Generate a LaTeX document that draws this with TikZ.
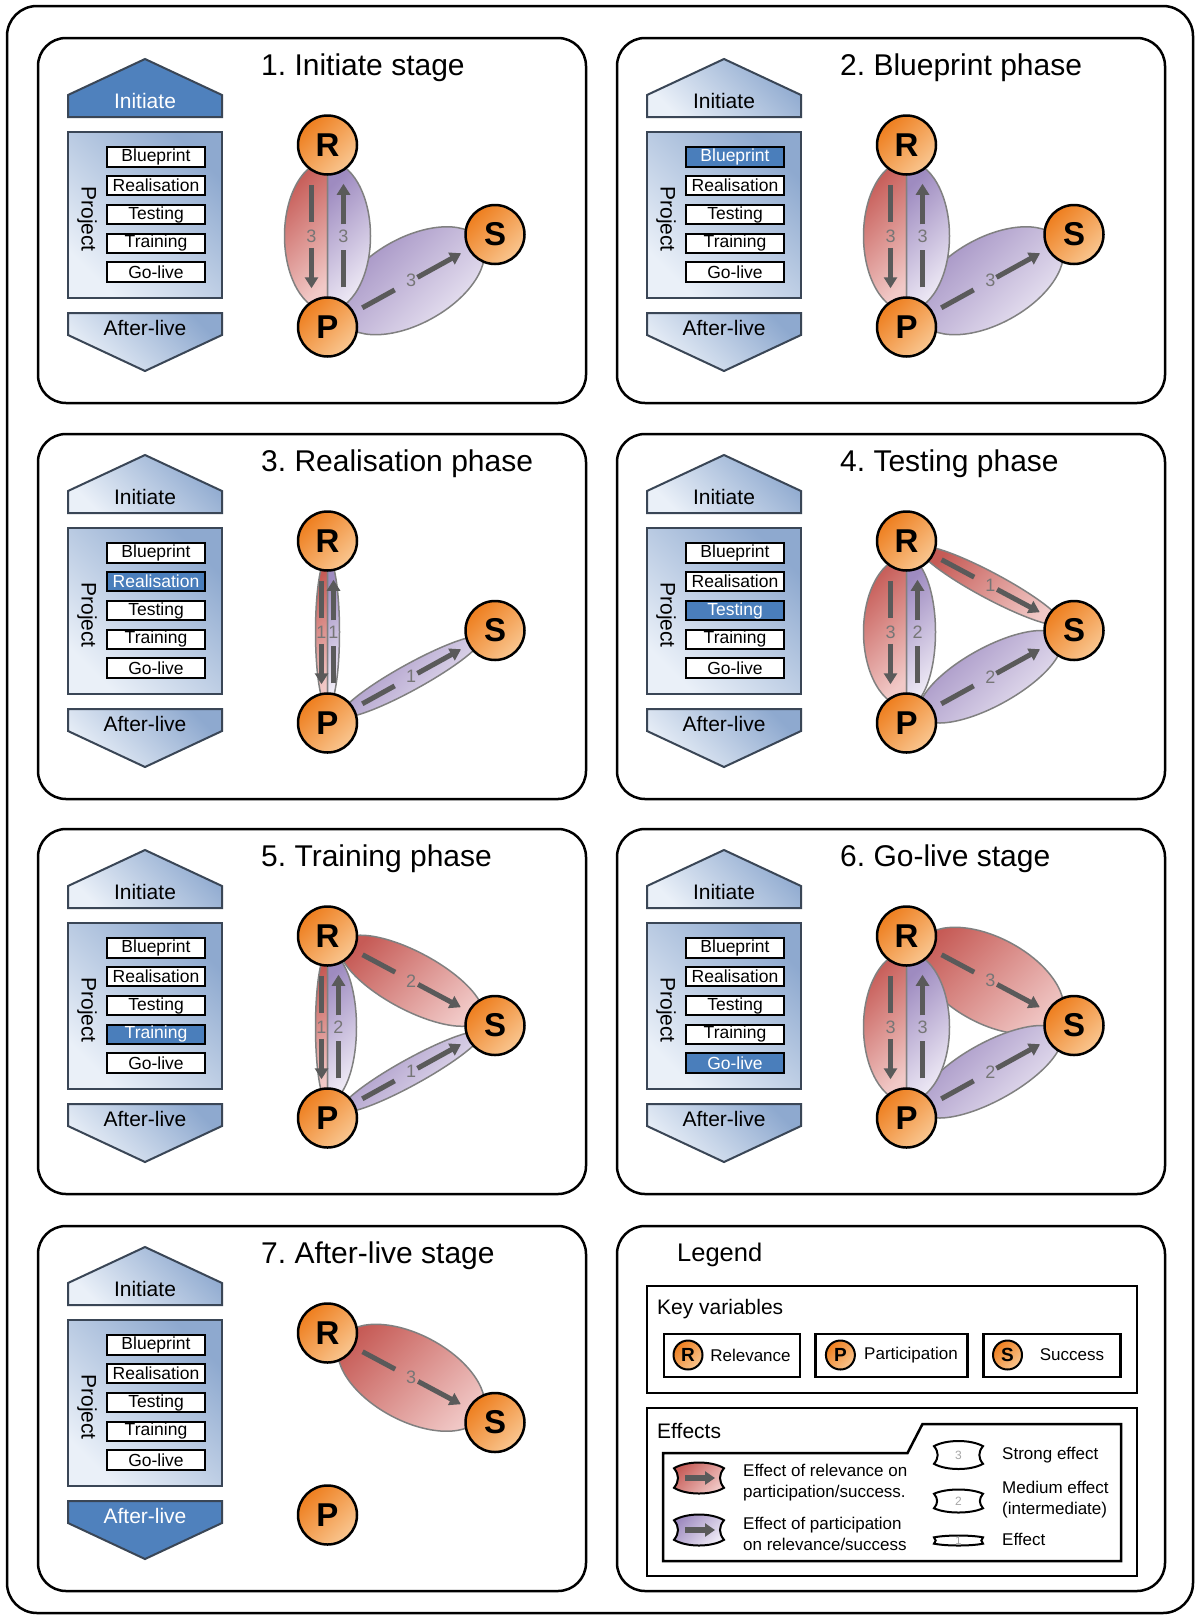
\documentclass[tikz,border=0pt]{standalone}
\usepackage{fontspec}
\setmainfont{Liberation Sans}
\usepackage{tikz}
\usetikzlibrary{arrows.meta,positioning,calc,backgrounds}
\frenchspacing

\definecolor{phaseblue}{HTML}{4F81BD}
\definecolor{itemblue}{HTML}{4A7EBB}
\definecolor{phasedark}{HTML}{8EA9CF}
\definecolor{phaselight}{HTML}{EAF0F8}
\definecolor{phaseedge}{HTML}{3A4656}
\definecolor{reldark}{HTML}{C65B56}
\definecolor{rellight}{HTML}{F1C9C7}
\definecolor{partdark}{HTML}{9E8BC0}
\definecolor{partlight}{HTML}{EFEBF6}
\definecolor{vardark}{HTML}{EE7E1E}
\definecolor{varlight}{HTML}{F9C690}
\definecolor{effgray}{HTML}{5A5A5A}
\definecolor{effedge}{HTML}{808080}
\definecolor{numgray}{HTML}{767676}
\definecolor{numlight}{HTML}{A6A6A6}

\newcommand{\fsz}[1]{\fontsize{#1}{#1}\selectfont}

\tikzset{
  frame/.style={draw=black, line width=2.5pt, rounded corners=28pt},
  box/.style={draw=black, line width=2.5pt},
  title/.style={font=\fsz{30}, inner sep=0pt},
  phase/.style={draw=phaseedge, line width=2pt, top color=phasedark, bottom color=phaselight, shading angle=-45},
  phaseon/.style={draw=phaseedge, line width=2pt, fill=phaseblue},
  phasetxt/.style={font=\fsz{21}, inner sep=0pt},
  item/.style={draw=black, line width=2pt, fill=white, minimum width=98pt, minimum height=19.5pt, inner sep=0pt, font=\fsz{17.5}},
  itemon/.style={item, fill=itemblue, text=white},
  var/.style={circle, draw=black, line width=2.5pt, minimum size=59pt, inner sep=0pt, top color=vardark, bottom color=varlight, shading angle=45, font=\bfseries\fsz{33}},
  smallvar/.style={var, line width=2pt, minimum size=29pt, font=\bfseries\fsz{19}},
  releff/.style={draw=effedge, line width=1.5pt, top color=reldark, bottom color=rellight, shading angle=45},
  parteff/.style={draw=effedge, line width=1.5pt, top color=partdark, bottom color=partlight, shading angle=45},
  effarrow/.style={draw=effgray, line width=5pt, -{Triangle[length=11pt,width=13pt]}, shorten <=9pt, shorten >=8pt, dash pattern=on 37pt off 26pt on 400pt},
  effnum/.style={text=numgray, font=\fsz{18}, inner sep=0pt},
  keybox/.style={draw=black, line width=2.5pt, minimum height=43pt, inner sep=0pt},
  legtxt/.style={font=\fontsize{17}{20.5}\selectfont, inner sep=0pt, align=left},
  legarrow/.style={draw=effgray, line width=5.5pt, -{Triangle[length=10pt,width=13pt]}},
}

% effect shapes under the variables
\newcommand{\effell}[5]{% centre, angle, semi-major, semi-minor, style
  \path[#5, shift={#1}, rotate=#2] (0,0) ellipse[x radius=#3, y radius=#4];}
\newcommand{\effhalf}[6]{% centre, angle, semi-major, semi-minor, style, end angle
  \path[#5, shift={#1}, rotate=#2] (#3,0) arc[start angle=0, end angle=#6, x radius=#3, y radius=#4] -- cycle;}

\newcommand{\rppair}[7]{%
  \begin{scope}[on background layer]
    \effhalf{($(R#1)!.5!(P#1)$)}{-90}{75}{#2}{releff}{180}
    \effhalf{($(R#1)!.5!(P#1)$)}{-90}{75}{#3}{parteff}{-180}
  \end{scope}
  \draw[effarrow] ([xshift=-#4pt]R#1.south) -- node[effnum]{#6} ([xshift=-#4pt]P#1.north);
  \draw[effarrow] ([xshift=#5pt]P#1.north) -- node[effnum]{#7} ([xshift=#5pt]R#1.south);}
\newcommand{\rseff}[3]{%
  \begin{scope}[on background layer]
    \effell{($(R#1)!.5!(S#1)$)}{-28.1}{80}{#2}{releff}
  \end{scope}
  \draw[effarrow] (R#1) -- node[effnum]{#3} (S#1);}
\newcommand{\pseff}[3]{%
  \begin{scope}[on background layer]
    \effell{($(P#1)!.5!(S#1)$)}{28.9}{80}{#2}{parteff}
  \end{scope}
  \draw[effarrow] (P#1) -- node[effnum]{#3} (S#1);}

% legend badge
\newcommand{\badge}[5]{% centre, half width, half height, style, content
  \begin{scope}[shift={#1}]
    \pgfmathsetmacro\bw{#2}
    \pgfmathsetmacro\bh{0.63*#3}
    \pgfmathsetmacro\bk{(#3-\bh)/0.75}
    \pgfmathsetmacro\bc{0.3*#3+0.7}
    \path[#4] (-\bw,-\bh) .. controls (-\bw/2,-\bh-\bk) and (\bw/2,-\bh-\bk) .. (\bw,-\bh)
      .. controls (\bw-\bc,-\bh/3) and (\bw-\bc,\bh/3) .. (\bw,\bh)
      .. controls (\bw/2,\bh+\bk) and (-\bw/2,\bh+\bk) .. (-\bw,\bh)
      .. controls (-\bw+\bc,\bh/3) and (-\bw+\bc,-\bh/3) .. (-\bw,-\bh) -- cycle;
    #5
  \end{scope}}

\begin{document}
\begin{tikzpicture}[x=1pt,y=-1pt]
  \useasboundingbox (0,0) rectangle (1197,1615);
  \begin{scope}[on background layer]
    \fill[white] (0,0) rectangle (1197,1615);
  \end{scope}
  \draw[frame, rounded corners=30pt] (7,6) rectangle (1193,1613);

  % seven stage panels
  \foreach \px/\py/\hl/\ttl [count=\k] in {38/38/0/1. Initiate stage, 617/38/1/2. Blueprint phase,
      38/434/2/3. Realisation phase, 617/434/3/4. Testing phase, 38/829/4/5. Training phase,
      617/829/5/6. Go-live stage, 38/1226/6/7. After-live stage}{
    \begin{scope}[shift={(\px,\py)}]
      \draw[frame] (0,0) rectangle (548,365);
      \node[title, anchor=west] (ttl\k) at (223,30) {\ttl};
      % phase column
      \tikzset{ini/.style={phase}, initxt/.style={phasetxt}, aft/.style={phase}, afttxt/.style={phasetxt}}
      \ifnum\hl=0 \tikzset{ini/.style={phaseon}, initxt/.style={phasetxt, text=white}}\fi
      \ifnum\hl=6 \tikzset{aft/.style={phaseon}, afttxt/.style={phasetxt, text=white}}\fi
      \draw[ini] (30,79) -- (30,57) -- (107,21) -- (184,57) -- (184,79) -- cycle;
      \node[initxt] (ini\k) at (107,63) {Initiate};
      \draw[phase] (30,94) rectangle (184,260);
      \node[phasetxt, rotate=-90] (prj\k) at (49,181) {Project};
      \foreach \name [count=\j] in {Blueprint,Realisation,Testing,Training,Go-live}{
        \ifnum\j=\hl \tikzset{cur/.style={itemon}}\else\tikzset{cur/.style={item}}\fi
        \node[cur] (it\k\j) at (118,{118.8+28.85*(\j-1)}) {\name};
      }
      \draw[aft] (30,275) -- (184,275) -- (184,297) -- (107,333) -- (30,297) -- cycle;
      \node[afttxt] (aft\k) at (107,290) {After-live};
      % key variables
      \node[var] (R\k) at (289.5,107) {R};
      \node[var] (P\k) at (289.5,289) {P};
      \node[var] (S\k) at (457,196.5) {S};
    \end{scope}
  }

  % effects per stage
  \pseff{1}{43}{3} \rppair{1}{43}{43}{16}{16}{3}{3}
  \pseff{2}{43}{3} \rppair{2}{43}{43}{16}{16}{3}{3}
  \pseff{3}{13}{1} \rppair{3}{12}{12}{6}{6}{1}{1}
  \rseff{4}{13}{1} \pseff{4}{29}{2} \rppair{4}{43}{29}{16}{11}{3}{2}
  \rseff{5}{29}{2} \pseff{5}{13}{1} \rppair{5}{12}{29}{6}{11}{1}{2}
  \rseff{6}{43}{3} \pseff{6}{29}{2} \rppair{6}{43}{43}{16}{16}{3}{3}
  \rseff{7}{43}{3}

  % legend
  \begin{scope}[shift={(617,1226)}]
    \draw[frame] (0,0) rectangle (548,365);
    \node[anchor=west, font=\fsz{25.5}, inner sep=0pt] (leg) at (60,29) {Legend};
    \draw[box] (30,60) rectangle (520,167);
    \node[anchor=west, font=\fsz{21}, inner sep=0pt] (keyvar) at (40,83) {Key variables};
    \node[keybox, minimum width=136pt] (kbR) at (115,129.5) {};
    \node[keybox, minimum width=152pt] (kbP) at (274.7,129.5) {};
    \node[keybox, minimum width=137pt] (kbS) at (435,129.5) {};
    \node[smallvar] (kR) at (71,129) {R};
    \node[smallvar] (kP) at (223.4,129) {P};
    \node[smallvar] (kS) at (390.5,129) {S};
    \node[legtxt] (kRl) at (133.5,129) {Relevance};
    \node[legtxt] (kPl) at (294,129) {Participation};
    \node[legtxt] (kSl) at (455,129) {Success};

    \draw[box] (30,182) rectangle (520,350);
    \node[anchor=west, font=\fsz{21}, inner sep=0pt] (effs) at (40,205) {Effects};
    \draw[box] (46,227) -- (290.5,227) -- (305.5,198) -- (504,198) -- (504,335) -- (46,335) -- cycle;

    \badge{(82,252)}{25}{15.5}{releff, draw=black, line width=2pt}{%
      \coordinate (ra0) at (-14,0); \coordinate (ra1) at (16,0); \draw[legarrow] (ra0) -- (ra1);}
    \badge{(82,304)}{25}{15.5}{parteff, draw=black, line width=2pt}{%
      \coordinate (pa0) at (-14,0); \coordinate (pa1) at (16,0); \draw[legarrow] (pa0) -- (pa1);}
    \node[legtxt, anchor=west] (relt) at (126,256.5) {Effect of relevance on\\participation/success.};
    \node[legtxt, anchor=west] (part) at (126,308) {Effect of participation\\on relevance/success};

    \badge{(341.5,229)}{24.5}{14}{draw=black, line width=2pt, fill=white}{%
      \node[effnum, text=numlight, font=\fsz{12}] (b3) at (0,0) {3};}
    \badge{(341.5,275)}{24.5}{11.5}{draw=black, line width=2pt, fill=white}{%
      \node[effnum, text=numlight, font=\fsz{12}] (b2) at (0,0) {2};}
    \badge{(341.5,314.5)}{24.5}{5}{draw=black, line width=2pt, fill=white}{%
      \node[effnum, text=numlight, font=\fsz{11}] (b1) at (0,0) {1};}
    \node[legtxt, anchor=west] (strong) at (385,229) {Strong effect};
    \node[legtxt, anchor=west] (medium) at (385,273.5) {Medium effect\\(intermediate)};
    \node[legtxt, anchor=west] (weak) at (385,313) {Effect};
  \end{scope}
\end{tikzpicture}
\end{document}
